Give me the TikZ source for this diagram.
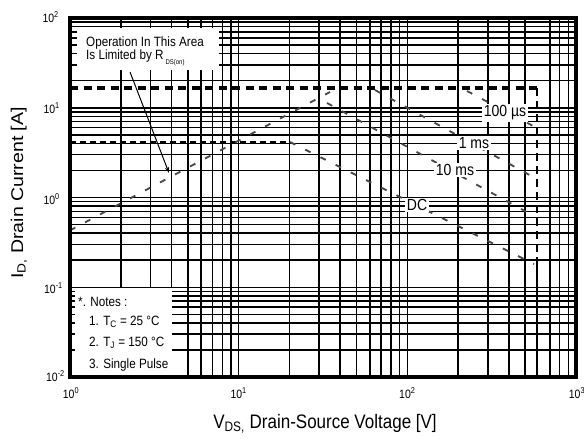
\documentclass[tikz,border=0pt]{standalone}
\usepackage{fontspec}
\usepackage{graphicx}
\setmainfont{Liberation Sans}
\usetikzlibrary{arrows.meta}
\newcommand{\vst}[1]{\scalebox{1}[1.15]{#1}}
\newcommand{\hst}[1]{\scalebox{1.15}[1]{#1}}
\tikzset{
  gridline/.style={line width=1.5pt,black},
  frameline/.style={line width=3.5pt,black},
  limthick/.style={line width=3.8pt,black,dash pattern=on 8pt off 5.5pt},
  limthin/.style={line width=2.2pt,black,dash pattern=on 6pt off 4pt},
  limvert/.style={line width=2.6pt,black,dash pattern=on 8pt off 5pt},
  soacurve/.style={line width=1.8pt,black!72,dash pattern=on 6pt off 11pt},
  ticklab/.style={font=\fontsize{10.5}{12}\selectfont,inner sep=0pt},
  notetext/.style={font=\fontsize{11.7}{13}\selectfont,anchor=west,inner sep=0pt},
  curvelab/.style={font=\fontsize{14}{16}\selectfont,fill=white,inner sep=1.5pt},
  axislab/.style={font=\fontsize{17}{20}\selectfont,inner sep=0pt}
}
\begin{document}
\begin{tikzpicture}[x=1pt,y=-1pt]
\useasboundingbox (0,0) rectangle (584,439);
% vertical grid lines
\foreach \d in {0,1,2}{
  \foreach \m in {1,...,9}{
    \pgfmathsetmacro\xx{70+168.667*(\d+log10(\m))}
    \pgfmathtruncatemacro\skipit{(\d==2)&&(\m==6)}
    \ifnum\skipit=0
      \draw[gridline] (\xx,18) -- (\xx,377);
    \fi
  }
}
% horizontal grid lines
\foreach \d in {0,1,2,3}{
  \foreach \m in {1,...,9}{
    \pgfmathsetmacro\yy{18+89.75*(4-\d-log10(\m))}
    \draw[gridline] (70,\yy) -- (576,\yy);
  }
}
% white boxes
\fill[white] (77,28) rectangle (219,70);
\fill[white] (75,288) rectangle (172,377);
% limits
\coordinate (thL) at (70,88);
\coordinate (thR) at (537,88);
\coordinate (vMid) at (537,265);
\coordinate (vBot) at (537,377);
\draw[limthick] (thL) -- (thR);
\draw[limvert] (thR) -- (vMid);
\draw[line width=2.4pt] (vMid) -- (vBot);
\coordinate (dcL) at (70,142);
\coordinate (dcK) at (290,142);
\draw[limthin] (dcL) -- (dcK);
% curves
\coordinate (rA) at (70,230.4);
\coordinate (rB) at (330,92);
\draw[soacurve] (rA) -- (rB);
\coordinate (tenA) at (327,103);
\coordinate (tenB) at (534,216);
\draw[soacurve] (tenA) -- (tenB);
\coordinate (oneA) at (375,90);
\coordinate (oneB) at (535,178);
\draw[soacurve] (oneA) -- (oneB);
\coordinate (hunA) at (467,91);
\coordinate (hunB) at (535,127);
\draw[soacurve] (hunA) -- (hunB);
\coordinate (dcB) at (534,264);
\draw[soacurve] (dcK) -- (dcB);
% curve labels
\node[curvelab] (l100) at (505,113) {\vst{100 µs}};
\node[curvelab] (l1) at (474,143) {\vst{1 ms}};
\node[curvelab] (l10) at (455,170) {\vst{10 ms}};
\node[curvelab] (ldc) at (417,205) {\vst{DC}};
% frame
\draw[frameline] (70,18) rectangle (576,377);
% annotation
\node[notetext] (op1) at (86,43) {\vst{Operation In This Area}};
\node[notetext] (op2) at (86,58) {\vst{Is Limited by R\,\raisebox{-4.5pt}{\fontsize{6}{6}\selectfont DS(on)}}};
\coordinate (arS) at (130,72);
\coordinate (arE) at (169,173);
\draw[line width=1pt,-{Stealth[length=6pt,width=4pt]}] (arS) -- (arE);
% notes
\node[notetext] (n0) at (78,302) {\vst{*. Notes :}};
\node[notetext] (n1) at (89,322) {\vst{1. T\textsubscript{C} = 25 °C}};
\node[notetext] (n2) at (89,343) {\vst{2. T\textsubscript{J} = 150 °C}};
\node[notetext] (n3) at (89,365) {\vst{3. Single Pulse}};
% tick labels
\node[ticklab] (x0) at (71,393) {\vst{10\textsuperscript{0}}};
\node[ticklab] (x1) at (238.7,393) {\vst{10\textsuperscript{1}}};
\node[ticklab] (x2) at (407.3,393) {\vst{10\textsuperscript{2}}};
\node[ticklab] (x3) at (577,393) {\vst{10\textsuperscript{3}}};
\node[ticklab,anchor=east] (y2) at (59,17) {\vst{10\textsuperscript{2}}};
\node[ticklab,anchor=east] (y1) at (60,108) {\vst{10\textsuperscript{1}}};
\node[ticklab,anchor=east] (y0) at (60,199) {\vst{10\textsuperscript{0}}};
\node[ticklab,anchor=east] (ym1) at (63,288) {\vst{10\textsuperscript{-1}}};
\node[ticklab,anchor=east] (ym2) at (65,376) {\vst{10\textsuperscript{-2}}};
% axis labels
\node[axislab] (xlab) at (325,424) {\vst{V\textsubscript{DS,} Drain-Source Voltage [V]}};
\node[axislab,rotate=90] (ylab) at (19,193) {\hst{I\textsubscript{D,} Drain Current [A]}};
\end{tikzpicture}
\end{document}
